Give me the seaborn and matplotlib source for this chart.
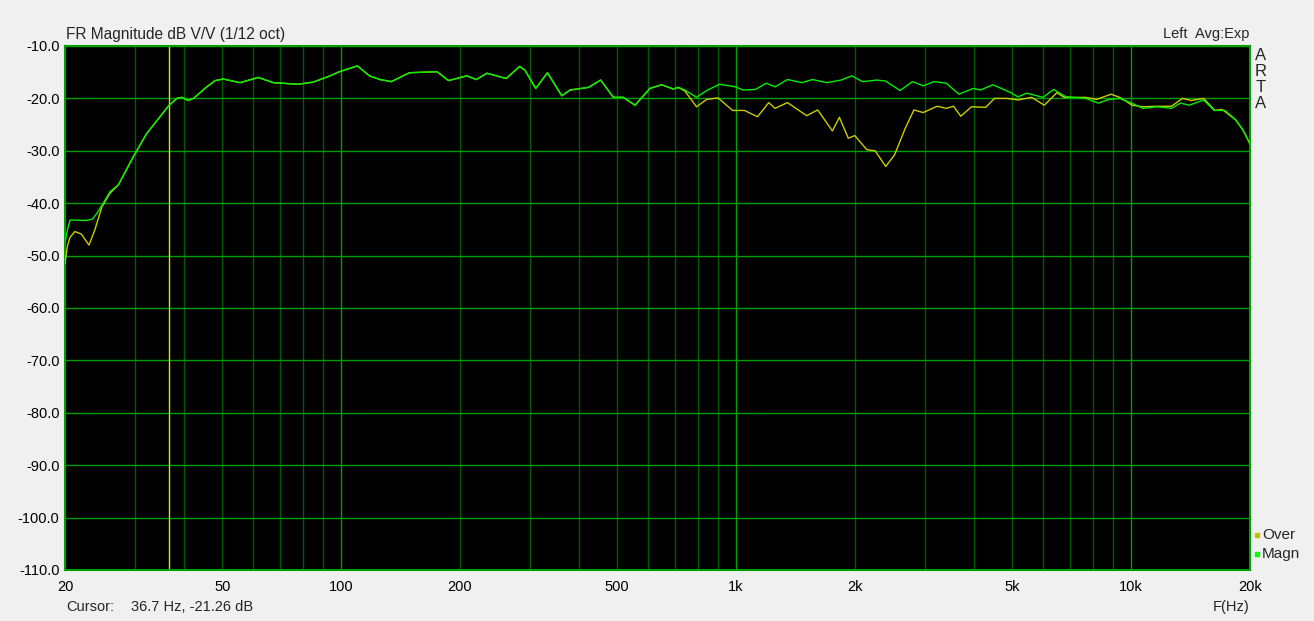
import numpy as np
import pandas as pd
import matplotlib as mpl
import matplotlib.pyplot as plt
import seaborn as sns

# ---------------------------------------------------------------------------
# Data (1/12 oct smoothing)
# ---------------------------------------------------------------------------

# low end, where the two traces differ
freq_low_magn = [20.0, 20.3, 20.6, 22.7, 23.5, 24.1, 25.0, 26.0]
db_low_magn = [-47.5, -45.0, -43.2, -43.3, -43.0, -41.9, -40.0, -37.8]

freq_low_over = [20.0, 20.3, 20.6, 21.2, 22.0, 23.0, 23.8, 24.8, 26.0]
db_low_over = [-51.5, -48.0, -46.5, -45.4, -45.9, -48.0, -45.1, -40.7, -38.1]

# 27 Hz .. 720 Hz, both traces on top of each other
freq_mid = [27.3, 29.8, 32.2, 34.8, 36.7, 38.4, 39.5, 41.0, 42.3, 45.7, 48.0,
            50.3, 55.5, 61.7, 67.4, 77.9, 85.0, 93.8, 99.0, 110, 118, 125.5,
            134, 149, 175, 187, 208, 220, 234, 262, 283, 292, 311, 333, 362,
            380, 423, 454, 489, 518, 555, 605, 648, 693, 714]
db_mid = [-36.5, -31.1, -26.7, -23.5, -21.3, -20.0, -19.8, -20.4, -20.0, -17.8,
          -16.6, -16.3, -17.0, -16.0, -17.0, -17.3, -16.9, -15.7, -14.9, -13.8,
          -15.7, -16.4, -16.8, -15.1, -14.9, -16.6, -15.7, -16.4, -15.2, -16.2,
          -13.9, -14.6, -18.1, -15.1, -19.5, -18.4, -17.9, -16.5, -19.8, -19.8,
          -21.3, -18.1, -17.4, -18.2, -17.9]

# high end, where the traces split again
freq_high_magn = [742, 794, 842, 908, 998, 1040, 1119, 1191, 1255, 1349, 1467,
                  1561, 1697, 1844, 1963, 2090, 2272, 2392, 2600, 2796, 2976,
                  3168, 3406, 3664, 3984, 4155, 4468, 4958, 5170, 5445, 5981,
                  6366, 6844, 7674, 8257, 8786, 9355, 9960, 10712, 11640,
                  12648, 13332, 14042, 15260, 16240, 17290, 18400, 19190, 20000]
db_high_magn = [-18.4, -19.8, -18.5, -17.3, -17.8, -18.4, -18.3, -17.1, -17.8,
                -16.4, -17.0, -16.4, -17.0, -16.5, -15.7, -16.8, -16.5, -16.7,
                -18.5, -16.8, -17.6, -16.8, -17.1, -19.2, -18.1, -18.4, -17.4,
                -18.9, -19.7, -19.0, -19.8, -18.3, -19.7, -20.0, -20.9, -20.2,
                -20.0, -20.8, -21.9, -21.6, -21.9, -20.9, -21.3, -20.3, -22.3,
                -22.3, -24.1, -26.0, -28.7]

freq_high_over = [742, 794, 842, 900, 980, 1050, 1133, 1210, 1255, 1349, 1509,
                  1609, 1753, 1826, 1923, 1998, 2144, 2250, 2392, 2518, 2681,
                  2820, 2976, 3230, 3406, 3553, 3705, 3944, 4285, 4512, 4860,
                  5170, 5600, 6030, 6490, 6766, 7674, 8170, 8900, 9355, 10060,
                  10712, 11640, 12648, 13500, 14200, 15260, 16300, 17000,
                  18400, 19190, 20000]
db_high_over = [-18.6, -21.6, -20.2, -19.9, -22.3, -22.3, -23.5, -20.8, -21.9,
                -20.8, -23.3, -22.2, -26.2, -23.6, -27.6, -27.1, -29.8, -30.0,
                -33.0, -30.8, -25.7, -22.2, -22.7, -21.5, -21.9, -21.5, -23.4,
                -21.6, -21.7, -20.0, -20.0, -20.3, -19.8, -21.3, -18.9, -19.8,
                -19.8, -20.2, -19.2, -19.8, -21.3, -21.6, -21.5, -21.5, -20.0,
                -20.4, -20.0, -22.3, -22.1, -24.1, -26.0, -28.7]

cursor_freq = 36.7
cursor_db = -21.26

x_ticks = [20, 50, 100, 200, 500, 1000, 2000, 5000, 10000, 20000]
x_tick_labels = ["20", "50", "100", "200", "500", "1k", "2k", "5k", "10k", "20k"]
x_minor = [30, 40, 60, 70, 80, 90, 300, 400, 600, 700, 800, 900,
           3000, 4000, 6000, 7000, 8000, 9000]
y_ticks = np.arange(-110, -9, 10)

# ---------------------------------------------------------------------------
# Style
# ---------------------------------------------------------------------------

BG = "#f0f0f0"
GRID_BRIGHT = "#00a000"
GRID_DIM = "#005c00"
C_MAGN = "#00f000"
C_OVER = "#cccc00"
C_CURSOR = "#e6e000"

sns.set_style("dark")
mpl.rcParams.update(
    {
        "font.family": ["Liberation Sans", "DejaVu Sans"],
        "font.size": 10.5,
        "figure.facecolor": BG,
        "axes.facecolor": "black",
    }
)

df = pd.concat(
    [
        pd.DataFrame({"freq": freq_low_over + freq_mid + freq_high_over,
                      "db": db_low_over + db_mid + db_high_over,
                      "trace": "Over"}),
        pd.DataFrame({"freq": freq_low_magn + freq_mid + freq_high_magn,
                      "db": db_low_magn + db_mid + db_high_magn,
                      "trace": "Magn"}),
    ],
    ignore_index=True,
)

W, H = 1314, 621
fig = plt.figure(figsize=(W / 100, H / 100), dpi=100)
ax = fig.add_axes([65 / W, 1 - 570 / H, 1185 / W, 524 / H])

ax.set_xscale("log")
ax.set_xlim(20, 20000)
ax.set_ylim(-110, -10)

# grid drawn by hand so decades can be brighter than the in-between lines
for f in x_minor + [50, 200, 500, 2000, 5000]:
    ax.axvline(f, color=GRID_DIM, lw=1.0, zorder=1)
for f in [100, 1000, 10000]:
    ax.axvline(f, color=GRID_BRIGHT, lw=1.0, zorder=1)
for y in y_ticks:
    ax.axhline(y, color=GRID_BRIGHT, lw=1.0, zorder=1)

ax.axvline(cursor_freq, color=C_CURSOR, lw=1.0, zorder=2)

sns.lineplot(
    data=df, x="freq", y="db", hue="trace", estimator=None, sort=False,
    palette={"Over": C_OVER, "Magn": C_MAGN}, hue_order=["Over", "Magn"],
    lw=1.0, legend=False, ax=ax, zorder=3,
)

ax.set_xticks(x_ticks)
ax.set_xticklabels(x_tick_labels)
ax.xaxis.set_minor_locator(mpl.ticker.NullLocator())
ax.set_yticks(y_ticks)
ax.set_yticklabels([f"{v:.1f}" for v in y_ticks])
ax.tick_params(axis="both", length=0, labelsize=10.5, colors="black")
ax.tick_params(axis="x", pad=7)
ax.tick_params(axis="y", pad=4)
ax.set_xlabel("")
ax.set_ylabel("")
ax.grid(False)
for sp in ax.spines.values():
    sp.set_visible(True)
    sp.set_color(GRID_BRIGHT)
    sp.set_linewidth(1.5)


def ftext(x, y, s, **kw):
    fig.text(x / W, 1 - y / H, s, va="center", **kw)


ftext(66, 34, "FR Magnitude dB V/V (1/12 oct)", fontsize=11.2)
ftext(1249, 34, "Left  Avg:Exp", ha="right")
for i, ch in enumerate("ARTA"):
    ftext(1261, 55 + 16 * i, ch, ha="center", fontsize=12)

ftext(1262, 535, "Over", ha="left", fontsize=11)
ftext(1262, 554, "Magn", ha="left", fontsize=11)
fig.patches.append(mpl.patches.Rectangle((1255 / W, 1 - 537 / H), 4 / W, 4 / H,
                                         transform=fig.transFigure, color="#c0c000"))
fig.patches.append(mpl.patches.Rectangle((1255 / W, 1 - 556 / H), 4 / W, 4 / H,
                                         transform=fig.transFigure, color="#00ff00"))

ftext(66, 607, "Cursor:")
ftext(131, 607, f"{cursor_freq} Hz, {cursor_db} dB")
ftext(1250, 607, "F(Hz)", ha="right")

fig.savefig("out.png", dpi=100, facecolor=BG)
